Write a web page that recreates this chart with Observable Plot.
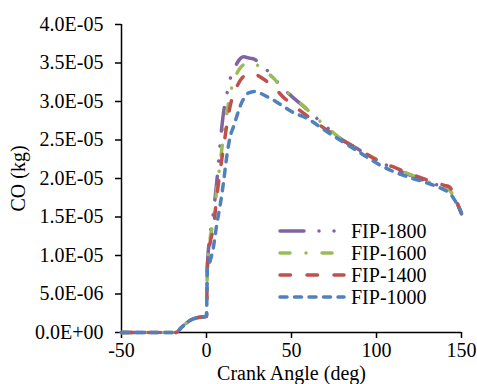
<!DOCTYPE html>
<html>
<head>
<meta charset="utf-8">
<script src="https://cdn.jsdelivr.net/npm/d3@7"></script>
<script src="https://cdn.jsdelivr.net/npm/@observablehq/plot@0.6"></script>
<style>
  html, body { margin: 0; padding: 0; background: white; }
  #wrap { position: relative; width: 477px; height: 384px; overflow: hidden; }
  #wrap svg text, #legend { font-family: "Liberation Serif", "Times New Roman", Times, "DejaVu Serif", serif !important; }
  #legend { position: absolute; left: 278px; top: 220px; font-size: 20px; color: #000; }
  #legend .row { display: flex; align-items: center; height: 22px; }
  #legend svg { display: block; margin-right: 5px; }
</style>
</head>
<body>
<div id="wrap"></div>
<script>
// Crank angle (deg)
const angles = [-50, -18, -15, -12, -9, -6, -3, 0, 0.5, 2, 4, 6, 8, 10, 12, 14, 16, 18, 20, 22, 24, 26, 28, 30, 35, 40, 45, 50, 60, 70, 80, 90, 100, 110, 120, 130, 140, 143, 146, 150];
// CO (x1e-5 kg)
const fip1800 = [0, 0, 0.06, 0.12, 0.165, 0.19, 0.2, 0.21, 0.85, 1.25, 1.55, 1.95, 2.45, 2.85, 3.1, 3.3, 3.41, 3.5, 3.56, 3.58, 3.57, 3.56, 3.55, 3.52, 3.42, 3.3, 3.17, 3.07, 2.88, 2.68, 2.5, 2.37, 2.24, 2.13, 2.04, 1.96, 1.88, 1.85, 1.74, 1.55];
const fip1600 = [0, 0, 0.06, 0.12, 0.165, 0.19, 0.2, 0.21, 0.85, 1.2, 1.45, 1.85, 2.2, 2.55, 2.85, 3.1, 3.27, 3.37, 3.44, 3.48, 3.5, 3.5, 3.5, 3.47, 3.39, 3.29, 3.15, 3.08, 2.88, 2.68, 2.5, 2.37, 2.25, 2.14, 2.05, 1.96, 1.88, 1.85, 1.73, 1.55];
const fip1400 = [0, 0, 0.06, 0.12, 0.165, 0.19, 0.2, 0.21, 0.85, 1.15, 1.35, 1.75, 2.1, 2.4, 2.7, 2.95, 3.1, 3.2, 3.28, 3.33, 3.36, 3.37, 3.36, 3.34, 3.27, 3.18, 3.06, 2.97, 2.8, 2.64, 2.5, 2.37, 2.24, 2.15, 2.06, 1.98, 1.91, 1.89, 1.76, 1.54];
const fip1000 = [0, 0, 0.06, 0.12, 0.165, 0.19, 0.2, 0.21, 0.82, 0.92, 1.1, 1.4, 1.65, 1.95, 2.3, 2.55, 2.68, 2.82, 2.95, 3.04, 3.1, 3.12, 3.13, 3.12, 3.07, 3.01, 2.94, 2.87, 2.77, 2.62, 2.48, 2.34, 2.2, 2.09, 2.01, 1.94, 1.85, 1.81, 1.72, 1.55];

const seriesNames = ["FIP-1800", "FIP-1600", "FIP-1400", "FIP-1000"];
const seriesValues = [fip1800, fip1600, fip1400, fip1000];
const colors = ["#8064A2", "#9BBB59", "#C0504D", "#4F81BD"];
const dashes = ["24,15,0.01,15,0.01,15", "10,16,0.01,16", "10.5,16.5", "7,7.5"];

const xTicks = [-50, 0, 50, 100, 150];
const yTicks = [0, 5e-6, 1e-5, 1.5e-5, 2e-5, 2.5e-5, 3e-5, 3.5e-5, 4e-5];

const fmt = v => v.toExponential(1).toUpperCase().replace(/E([+-])(\d)$/, "E$10$2");

const lineMarks = seriesNames.map((name, i) => {
  const data = angles.map((a, j) => ({x: a, y: seriesValues[i][j] * 1e-5}));
  return Plot.line(data, {
    x: "x", y: "y", curve: "monotone-x",
    stroke: colors[i], strokeWidth: 3.5,
    strokeDasharray: dashes[i], strokeLinecap: "round", strokeLinejoin: "round"
  });
});

const chart = Plot.plot({
  width: 477, height: 384,
  marginLeft: 121, marginRight: 16, marginTop: 24, marginBottom: 52,
  style: {fontFamily: "'Liberation Serif', 'Times New Roman', serif", fontSize: "20px", color: "#000", background: "white", overflow: "visible"},
  x: {domain: [-50, 150]},
  y: {domain: [0, 4e-5]},
  marks: [
    Plot.axisX({ticks: xTicks, tickSize: 6, tickPadding: 4, tickFormat: d => String(d), label: "Crank Angle (deg)", labelAnchor: "center", labelArrow: "none", labelOffset: 47, fontSize: 20, strokeWidth: 1.5}),
    Plot.axisY({ticks: yTicks, tickSize: 6, tickPadding: 12, tickFormat: fmt, label: "CO (kg)", labelAnchor: "center", labelArrow: "none", labelOffset: 111, fontSize: 20, strokeWidth: 1.5}),
    Plot.ruleX([-50], {stroke: "#000", strokeWidth: 1.5}),
    Plot.ruleY([0], {stroke: "#000", strokeWidth: 1.5}),
    ...lineMarks
  ]
});

const wrap = document.getElementById("wrap");
wrap.appendChild(chart);

const legend = document.createElement("div");
legend.id = "legend";
seriesNames.forEach((name, i) => {
  const row = document.createElement("div");
  row.className = "row";
  const ns = "http://www.w3.org/2000/svg";
  const svg = document.createElementNS(ns, "svg");
  svg.setAttribute("width", 68); svg.setAttribute("height", 10);
  const ln = document.createElementNS(ns, "line");
  ln.setAttribute("x1", 2); ln.setAttribute("x2", 66); ln.setAttribute("y1", 5); ln.setAttribute("y2", 5);
  ln.setAttribute("stroke", colors[i]); ln.setAttribute("stroke-width", 3.5);
  ln.setAttribute("stroke-dasharray", dashes[i]); ln.setAttribute("stroke-linecap", "round");
  svg.appendChild(ln);
  const t = document.createElement("span");
  t.textContent = name;
  row.appendChild(svg); row.appendChild(t);
  legend.appendChild(row);
});
wrap.appendChild(legend);
</script>
</body>
</html>
